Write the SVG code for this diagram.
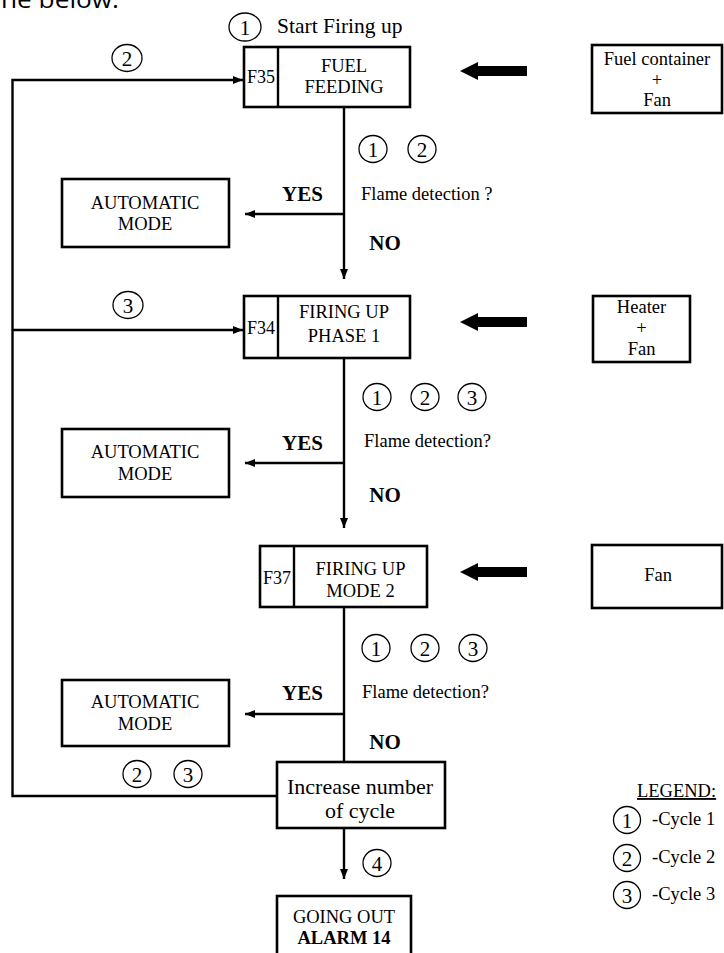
<svg xmlns="http://www.w3.org/2000/svg" width="724" height="953" viewBox="0 0 724 953">
<defs>
<style>
text{font-family:"Liberation Serif","Times New Roman",serif;fill:#000}
.t{font-size:18.5px;text-anchor:middle}
.b{font-size:21px;font-weight:bold;text-anchor:middle}
.q{font-size:18.5px}
.n{font-size:21px;text-anchor:middle}
.box{fill:#fff;stroke:#000;stroke-width:2.6}
.ln{fill:none;stroke:#000;stroke-width:2.4}
.cir{fill:none;stroke:#000;stroke-width:1.3}
.big{fill:#000}
</style>
<marker id="ah" markerWidth="10" markerHeight="8" refX="10" refY="4" orient="auto" markerUnits="userSpaceOnUse">
<path d="M0,0 L10,4 L0,8 Z" fill="#000"/>
</marker>
</defs>
<rect width="724" height="953" fill="#fff"/>
<text x="1" y="8" style="font-family:'Open Sans','Liberation Sans',sans-serif;font-size:24px" textLength="118" lengthAdjust="spacingAndGlyphs">ne below.</text>

<g id="connectors">
<path class="ln" d="M277,796 H12.5 V80 H243" marker-end="url(#ah)"/>
<path class="ln" d="M12.5,330 H243" marker-end="url(#ah)"/>
<path class="ln" d="M344,107 V279" marker-end="url(#ah)"/>
<path class="ln" d="M344,214 H245" marker-end="url(#ah)"/>
<path class="ln" d="M344,358 V528" marker-end="url(#ah)"/>
<path class="ln" d="M344,463 H245" marker-end="url(#ah)"/>
<path class="ln" d="M344,607 V762"/>
<path class="ln" d="M344,714 H245" marker-end="url(#ah)"/>
<path class="ln" d="M344,828 V879" marker-end="url(#ah)"/>
<path class="big" d="M460,71 L478,62 L478,66 L527,66 L527,76 L478,76 L478,80 Z"/>
<path class="big" d="M460,322 L478,313 L478,317 L527,317 L527,327 L478,327 L478,331 Z"/>
<path class="big" d="M460,572 L478,563 L478,567 L527,567 L527,577 L478,577 L478,581 Z"/>
</g>

<g id="start">
<ellipse class="cir" cx="245" cy="27" rx="16" ry="14"/>
<text class="n" x="245" y="34.5">1</text>
<text x="277" y="33" style="font-size:21.5px">Start Firing up</text>
</g>

<g id="fuel-feeding">
<rect class="box" x="244" y="47" width="166" height="60"/>
<line class="ln" x1="278" y1="47" x2="278" y2="107" stroke-width="2.6"/>
<text class="t" x="261" y="83" style="font-size:18px">F35</text>
<text class="t" x="344" y="72">FUEL</text>
<text class="t" x="344" y="93">FEEDING</text>
</g>

<g id="fuel-container">
<rect class="box" x="592" y="45" width="130" height="68"/>
<text class="t" x="657" y="65">Fuel container</text>
<text class="t" x="657" y="86">+</text>
<text class="t" x="657" y="106">Fan</text>
</g>

<g id="cycle-labels">
<ellipse class="cir" cx="127" cy="58" rx="15" ry="13.5"/><text class="n" x="127" y="65.5">2</text>
<ellipse class="cir" cx="373" cy="149" rx="14" ry="13.5"/><text class="n" x="373" y="156.5">1</text>
<ellipse class="cir" cx="422" cy="149" rx="14" ry="13.5"/><text class="n" x="422" y="156.5">2</text>
<ellipse class="cir" cx="128" cy="305" rx="15" ry="13.5"/><text class="n" x="128" y="312.5">3</text>
<ellipse class="cir" cx="377" cy="397" rx="14" ry="13.5"/><text class="n" x="377" y="404.5">1</text>
<ellipse class="cir" cx="425" cy="397" rx="14" ry="13.5"/><text class="n" x="425" y="404.5">2</text>
<ellipse class="cir" cx="472" cy="397" rx="14" ry="13.5"/><text class="n" x="472" y="404.5">3</text>
<ellipse class="cir" cx="376" cy="648" rx="14" ry="13.5"/><text class="n" x="376" y="655.5">1</text>
<ellipse class="cir" cx="425" cy="648" rx="14" ry="13.5"/><text class="n" x="425" y="655.5">2</text>
<ellipse class="cir" cx="473" cy="648" rx="14" ry="13.5"/><text class="n" x="473" y="655.5">3</text>
<ellipse class="cir" cx="137" cy="774" rx="14" ry="13.5"/><text class="n" x="137" y="781.5">2</text>
<ellipse class="cir" cx="188" cy="774" rx="14" ry="13.5"/><text class="n" x="188" y="781.5">3</text>
<ellipse class="cir" cx="377" cy="863" rx="14" ry="13.5"/><text class="n" x="377" y="870.5">4</text>
</g>

<g id="decision-1">
<text class="q" x="361" y="200">Flame detection ?</text>
<text class="b" x="302.5" y="201">YES</text>
<text class="b" x="385" y="250">NO</text>
</g>

<g id="auto-1">
<rect class="box" x="62" y="179" width="167" height="68"/>
<text class="t" x="145" y="209">AUTOMATIC</text>
<text class="t" x="145" y="230">MODE</text>
</g>

<g id="firing-up-phase-1">
<rect class="box" x="244" y="296" width="166" height="62"/>
<line class="ln" x1="278" y1="296" x2="278" y2="358" stroke-width="2.6"/>
<text class="t" x="261" y="334" style="font-size:18px">F34</text>
<text class="t" x="344" y="318">FIRING UP</text>
<text class="t" x="344" y="342">PHASE 1</text>
</g>

<g id="heater">
<rect class="box" x="593" y="296" width="97" height="66"/>
<text class="t" x="641.5" y="313">Heater</text>
<text class="t" x="641.5" y="334">+</text>
<text class="t" x="641.5" y="355">Fan</text>
</g>

<g id="decision-2">
<text class="q" x="364" y="447">Flame detection?</text>
<text class="b" x="302.5" y="450">YES</text>
<text class="b" x="385" y="502">NO</text>
</g>

<g id="auto-2">
<rect class="box" x="62" y="429" width="167" height="68"/>
<text class="t" x="145" y="458">AUTOMATIC</text>
<text class="t" x="145" y="480">MODE</text>
</g>

<g id="firing-up-mode-2">
<rect class="box" x="260" y="546" width="167" height="61"/>
<line class="ln" x1="294" y1="546" x2="294" y2="607" stroke-width="2.6"/>
<text class="t" x="277" y="584" style="font-size:18px">F37</text>
<text class="t" x="360.5" y="575">FIRING UP</text>
<text class="t" x="360.5" y="597">MODE 2</text>
</g>

<g id="fan">
<rect class="box" x="592" y="545" width="130" height="63"/>
<text class="t" x="658" y="581">Fan</text>
</g>

<g id="decision-3">
<text class="q" x="362" y="698">Flame detection?</text>
<text class="b" x="302.5" y="700">YES</text>
<text class="b" x="385" y="749">NO</text>
</g>

<g id="auto-3">
<rect class="box" x="62" y="680" width="167" height="66"/>
<text class="t" x="145" y="708">AUTOMATIC</text>
<text class="t" x="145" y="730">MODE</text>
</g>

<g id="increase">
<rect class="box" x="277" y="762" width="168" height="66"/>
<text class="t" x="360" y="794" style="font-size:22px">Increase number</text>
<text class="t" x="360" y="818" style="font-size:22px">of cycle</text>
</g>

<g id="going-out">
<rect class="box" x="277" y="896" width="134" height="64"/>
<text class="t" x="344" y="923">GOING OUT</text>
<text class="t" x="344" y="944" font-weight="bold">ALARM 14</text>
</g>

<g id="legend">
<text class="q" x="637" y="797" text-decoration="underline">LEGEND:</text>
<ellipse class="cir" cx="627" cy="820" rx="13.5" ry="13.5"/><text class="n" x="627" y="827.5">1</text>
<text class="q" x="652" y="825">-Cycle 1</text>
<ellipse class="cir" cx="627" cy="858" rx="13.5" ry="13.5"/><text class="n" x="627" y="865.5">2</text>
<text class="q" x="652" y="863">-Cycle 2</text>
<ellipse class="cir" cx="627" cy="895" rx="13.5" ry="13.5"/><text class="n" x="627" y="902.5">3</text>
<text class="q" x="652" y="900">-Cycle 3</text>
</g>
</svg>
